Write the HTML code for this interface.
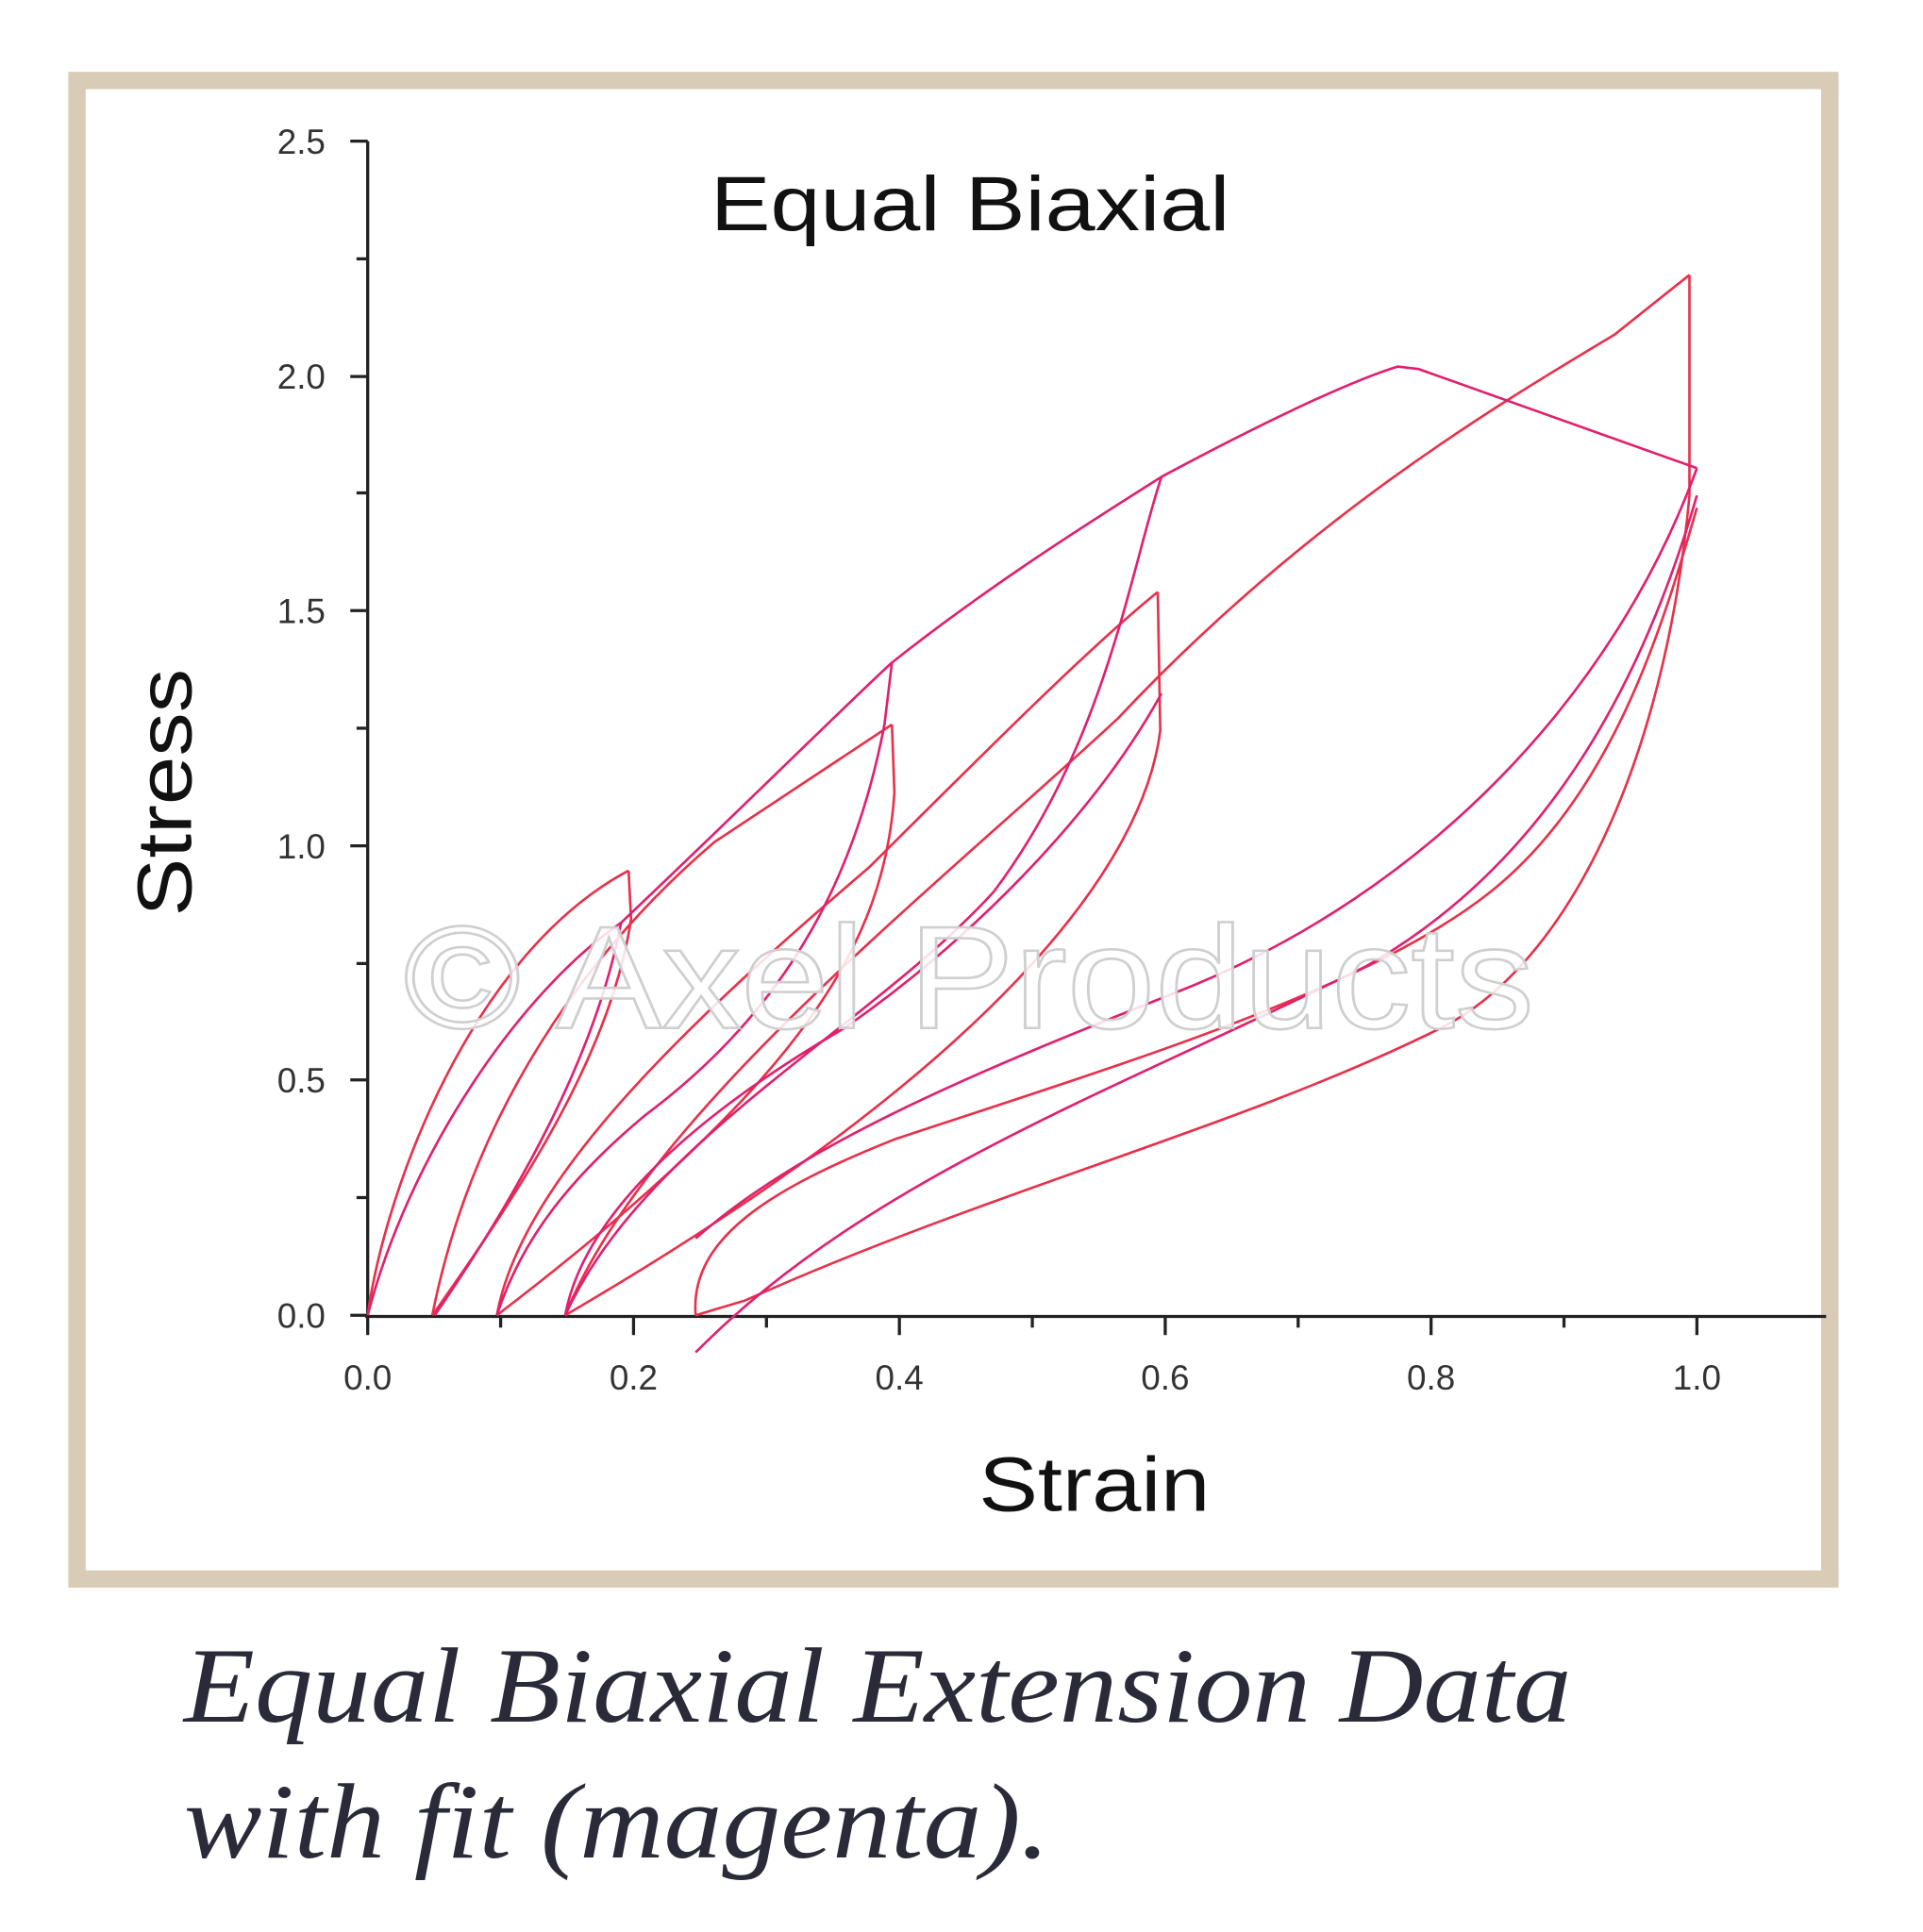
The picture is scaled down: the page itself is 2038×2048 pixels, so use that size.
<!DOCTYPE html>
<html><head><meta charset="utf-8"><style>
html,body{margin:0;padding:0;background:#fff;}
svg{display:block;}
</style></head><body>
<svg width="2038" height="2048" viewBox="0 0 1548 1560" preserveAspectRatio="none" xmlns="http://www.w3.org/2000/svg">
<rect x="0" y="0" width="1548" height="1560" fill="#fff"/>
<rect x="62" y="65" width="1411" height="1210" fill="#fff" stroke="#d8ccb6" stroke-width="14"/>
<g stroke="#222" stroke-width="2.5" fill="none">
<line x1="296" y1="114" x2="296" y2="1064"/>
<line x1="294" y1="1063" x2="1470" y2="1063"/>
<line x1="282" y1="1062" x2="296" y2="1062"/>
<line x1="287" y1="967" x2="296" y2="967"/>
<line x1="282" y1="872" x2="296" y2="872"/>
<line x1="287" y1="778" x2="296" y2="778"/>
<line x1="282" y1="683" x2="296" y2="683"/>
<line x1="287" y1="588" x2="296" y2="588"/>
<line x1="282" y1="493" x2="296" y2="493"/>
<line x1="287" y1="398" x2="296" y2="398"/>
<line x1="282" y1="304" x2="296" y2="304"/>
<line x1="287" y1="209" x2="296" y2="209"/>
<line x1="282" y1="114" x2="296" y2="114"/>
<line x1="296" y1="1063" x2="296" y2="1078"/>
<line x1="403" y1="1063" x2="403" y2="1072"/>
<line x1="510" y1="1063" x2="510" y2="1078"/>
<line x1="617" y1="1063" x2="617" y2="1072"/>
<line x1="724" y1="1063" x2="724" y2="1078"/>
<line x1="831" y1="1063" x2="831" y2="1072"/>
<line x1="938" y1="1063" x2="938" y2="1078"/>
<line x1="1045" y1="1063" x2="1045" y2="1072"/>
<line x1="1152" y1="1063" x2="1152" y2="1078"/>
<line x1="1259" y1="1063" x2="1259" y2="1072"/>
<line x1="1366" y1="1063" x2="1366" y2="1078"/>
</g>
<g font-family="Liberation Sans, sans-serif" font-size="28" fill="#333" text-anchor="end">
<text x="262" y="1072">0.0</text>
<text x="262" y="882">0.5</text>
<text x="262" y="693">1.0</text>
<text x="262" y="503">1.5</text>
<text x="262" y="314">2.0</text>
<text x="262" y="124">2.5</text>
</g>
<g font-family="Liberation Sans, sans-serif" font-size="28" fill="#333" text-anchor="middle">
<text x="296" y="1122">0.0</text>
<text x="510" y="1122">0.2</text>
<text x="724" y="1122">0.4</text>
<text x="938" y="1122">0.6</text>
<text x="1152" y="1122">0.8</text>
<text x="1366" y="1122">1.0</text>
</g>
<text x="572" y="186" font-family="Liberation Sans, sans-serif" font-size="62" fill="#111" textLength="418" lengthAdjust="spacingAndGlyphs">Equal Biaxial</text>
<text x="788" y="1220" font-family="Liberation Sans, sans-serif" font-size="62" fill="#111" textLength="186" lengthAdjust="spacingAndGlyphs">Strain</text>
<text transform="translate(154,640) rotate(-90)" text-anchor="middle" font-family="Liberation Sans, sans-serif" font-size="62" fill="#111" textLength="200" lengthAdjust="spacingAndGlyphs">Stress</text>
<g fill="none" stroke="#e8304a" stroke-width="2">
<path d="M296,1062 C310,960 380,770 506,703"/>
<path d="M506,703 L508,742 C492,850 420,960 348,1062"/>
<path d="M348,1062 C380,900 470,770 575,680 L718,585"/>
<path d="M718,585 L720,640 C712,760 650,870 400,1062"/>
<path d="M400,1062 C420,950 560,820 700,700 C800,600 880,520 932,478"/>
<path d="M932,478 L934,590 C920,700 800,860 455,1062"/>
<path d="M455,1062 C520,900 750,720 900,580 C1050,420 1200,330 1300,270 L1360,222"/>
<path d="M1360,222 L1360,400 C1340,620 1260,780 1160,830 C1000,910 800,960 600,1050 L560,1062"/>
<path d="M560,1062 C555,1000 620,960 720,920 C900,860 1100,800 1200,720 C1300,640 1340,500 1366,410"/>
</g>
<g fill="none" stroke="#e0206e" stroke-width="2">
<path d="M296,1062 C330,930 420,800 500,745 C600,650 680,570 718,535 C800,470 880,420 935,385 C1000,350 1080,310 1125,296 L1142,298 L1366,378"/>
<path d="M500,745 C480,850 420,960 350,1062"/>
<path d="M718,535 L712,585 C690,700 640,810 520,900 C460,950 420,1000 400,1062"/>
<path d="M935,385 C910,460 890,600 800,720 C700,830 520,920 455,1062"/>
<path d="M455,1062 C470,980 560,900 680,830 C780,760 880,660 935,560"/>
<path d="M1366,378 C1300,560 1150,720 950,800 C800,860 650,920 560,1000"/>
<path d="M1366,400 C1320,560 1240,700 1100,780 C900,880 700,950 560,1092"/>
</g>
<text x="325" y="830" font-family="Liberation Sans, sans-serif" font-size="118" fill="#fff" fill-opacity="0.85" stroke="#cfcfcf" stroke-width="2" textLength="910" lengthAdjust="spacingAndGlyphs">© Axel Products</text>
<text x="148" y="1390" font-family="Liberation Serif, serif" font-style="italic" font-size="86" fill="#2a2a38" textLength="1117" lengthAdjust="spacingAndGlyphs">Equal Biaxial Extension Data</text>
<text x="148" y="1500" font-family="Liberation Serif, serif" font-style="italic" font-size="86" fill="#2a2a38" textLength="697" lengthAdjust="spacingAndGlyphs">with fit (magenta).</text>
</svg>
</body></html>
